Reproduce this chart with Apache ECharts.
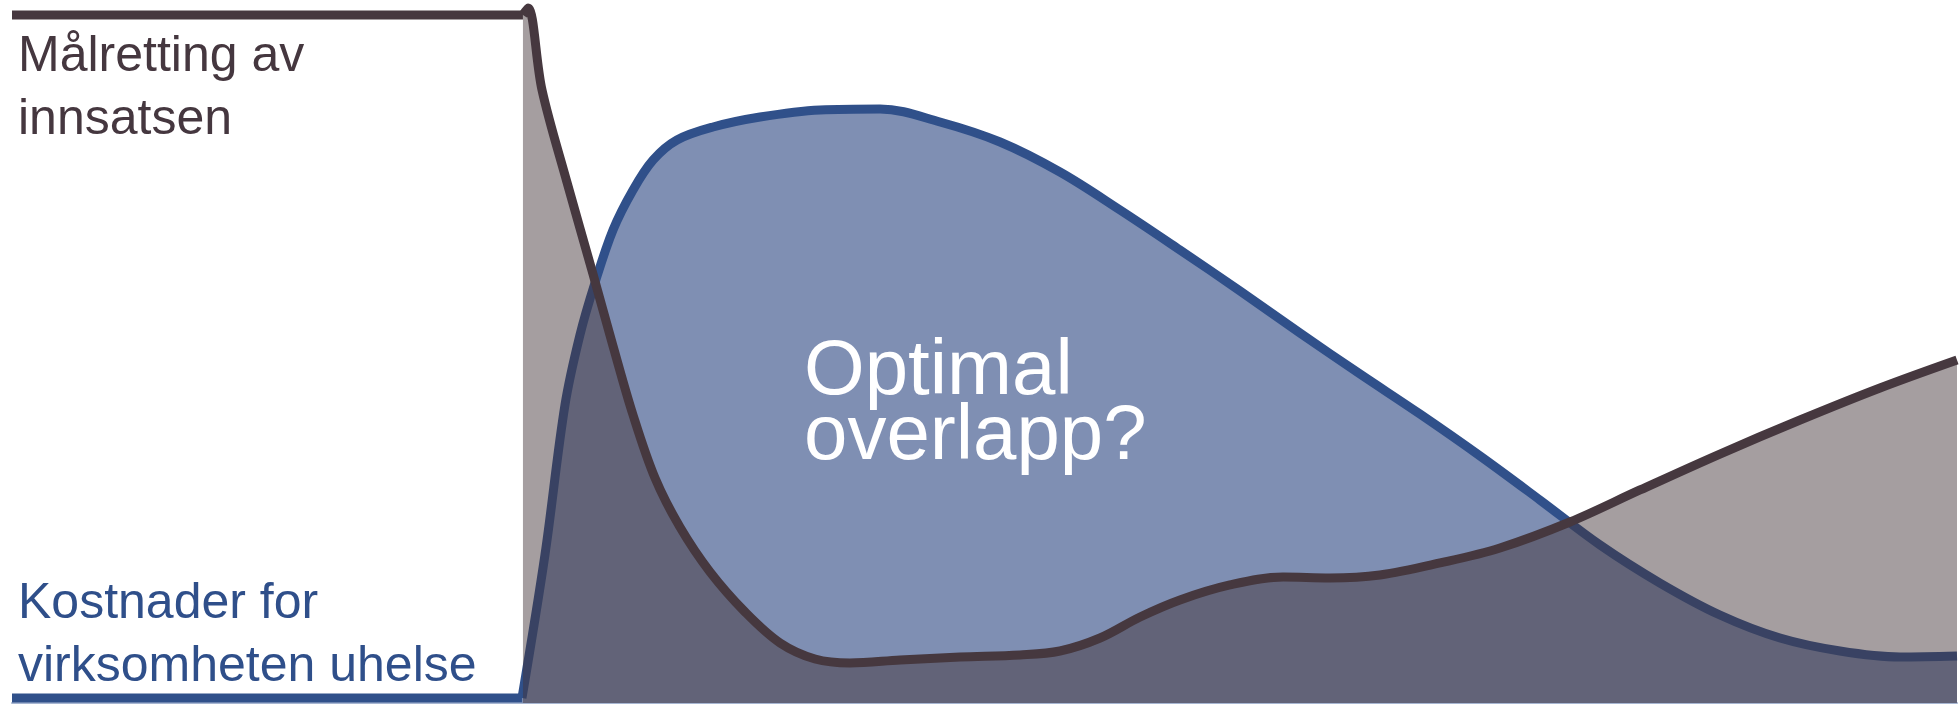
<!DOCTYPE html>
<html>
<head>
<meta charset="utf-8">
<script src="https://cdn.jsdelivr.net/npm/echarts@6/dist/echarts.min.js"></script>
<style>
  html, body { margin: 0; padding: 0; background: #ffffff; }
  #chart { width: 1959px; height: 707px; }
</style>
</head>
<body>
<div id="chart"></div>
<script>
// x: 0..100 across the chart width, y: 0..100 from baseline to top
const targetingFlatX = [0, 26.27];
const targetingFlatY = [98.57, 98.57];
const targetingX = [26.27, 26.53, 27.25, 28.53, 29.87, 30.90, 31.93, 33.06, 34.34, 35.89, 37.69, 39.49, 41.29, 43.08, 45.66, 48.74, 51.83, 53.88, 55.94, 58.00, 60.05, 62.62, 65.35, 67.76, 70.33, 73.42, 76.50, 80.10, 83.70, 87.81, 91.93, 96.04, 100];
const targetingY = [98.57, 99.57, 87.82, 74.64, 61.46, 51.15, 41.26, 32.23, 25.21, 18.77, 13.04, 8.60, 6.30, 5.73, 6.16, 6.59, 6.88, 7.45, 9.31, 12.32, 14.76, 16.91, 18.05, 17.91, 18.34, 20.06, 22.21, 25.93, 30.52, 35.67, 40.54, 45.13, 49.14];

const costFlatX = [0, 26.22];
const costFlatY = [0.72, 0.72];
const costX = [26.22, 27.40, 28.43, 29.20, 29.97, 30.90, 31.93, 32.96, 34.19, 36.04, 38.46, 41.54, 44.63, 47.71, 50.80, 53.88, 56.97, 60.05, 63.14, 66.22, 69.31, 72.39, 75.48, 78.56, 81.65, 84.73, 87.81, 90.90, 93.98, 97.07, 100];
const costY = [0.72, 21.20, 42.69, 52.72, 60.17, 67.77, 73.50, 77.79, 80.66, 82.52, 83.95, 84.96, 85.10, 83.24, 80.37, 76.07, 70.63, 64.90, 59.03, 53.01, 47.13, 41.40, 35.39, 29.08, 22.64, 17.19, 12.61, 9.31, 7.45, 6.59, 6.73];

const labelTargeting = 'Målretting av\ninnsatsen';
const labelCost = 'Kostnader for\nvirksomheten uhelse';
const labelMiddle = 'Optimal\noverlapp?';

function pairs(xs, ys) { return xs.map((x, i) => [x, ys[i]]); }

const BROWN = '#46383f';
const BLUE = '#30508a';
const FONT = "'Liberation Sans', Arial, Helvetica, sans-serif";

const chart = echarts.init(document.getElementById('chart'), null, { renderer: 'canvas' });
chart.setOption({
  animation: false,
  backgroundColor: '#ffffff',
  grid: { left: 12, right: 2, top: 5, bottom: 4, containLabel: false },
  xAxis: {
    type: 'value', min: 0, max: 100,
    axisLine: { show: true, lineStyle: { color: '#a7b6d2', width: 2 } },
    axisTick: { show: false }, axisLabel: { show: false }, splitLine: { show: false }
  },
  yAxis: {
    type: 'value', min: 0, max: 100, show: false,
    splitLine: { show: false }
  },
  series: [
    {
      name: 'costArea', type: 'line', data: pairs(costX, costY),
      smooth: 0.35, symbol: 'none', clip: false, z: 2,
      lineStyle: { color: BLUE, width: 9, cap: 'butt', join: 'round' },
      areaStyle: { color: '#7f8fb3', opacity: 1 }
    },
    {
      name: 'costFlat', type: 'line', data: pairs(costFlatX, costFlatY),
      symbol: 'none', clip: false, z: 2,
      lineStyle: { color: BLUE, width: 9, cap: 'butt' }
    },
    {
      name: 'targetingArea', type: 'line', data: pairs(targetingX, targetingY),
      smooth: 0.35, symbol: 'none', clip: false, z: 3,
      lineStyle: { color: BROWN, width: 9, cap: 'butt', join: 'round' },
      areaStyle: { color: 'rgba(67,52,57,0.48)', opacity: 1 }
    },
    {
      name: 'targetingFlat', type: 'line', data: pairs(targetingFlatX, targetingFlatY),
      symbol: 'none', clip: false, z: 3,
      lineStyle: { color: BROWN, width: 9, cap: 'butt' }
    }
  ],
  graphic: [
    {
      type: 'text', left: 18, top: 26, z: 10,
      style: { text: labelTargeting, fill: '#45373f', font: '50px ' + FONT, lineHeight: 63 }
    },
    {
      type: 'text', left: 18, top: 573, z: 10,
      style: { text: labelCost, fill: '#2f4f8a', font: '50px ' + FONT, lineHeight: 63 }
    },
    {
      type: 'text', left: 804, top: 333, z: 10,
      style: { text: labelMiddle, fill: '#ffffff', font: '78px ' + FONT, lineHeight: 65 }
    }
  ]
});
</script>
</body>
</html>
